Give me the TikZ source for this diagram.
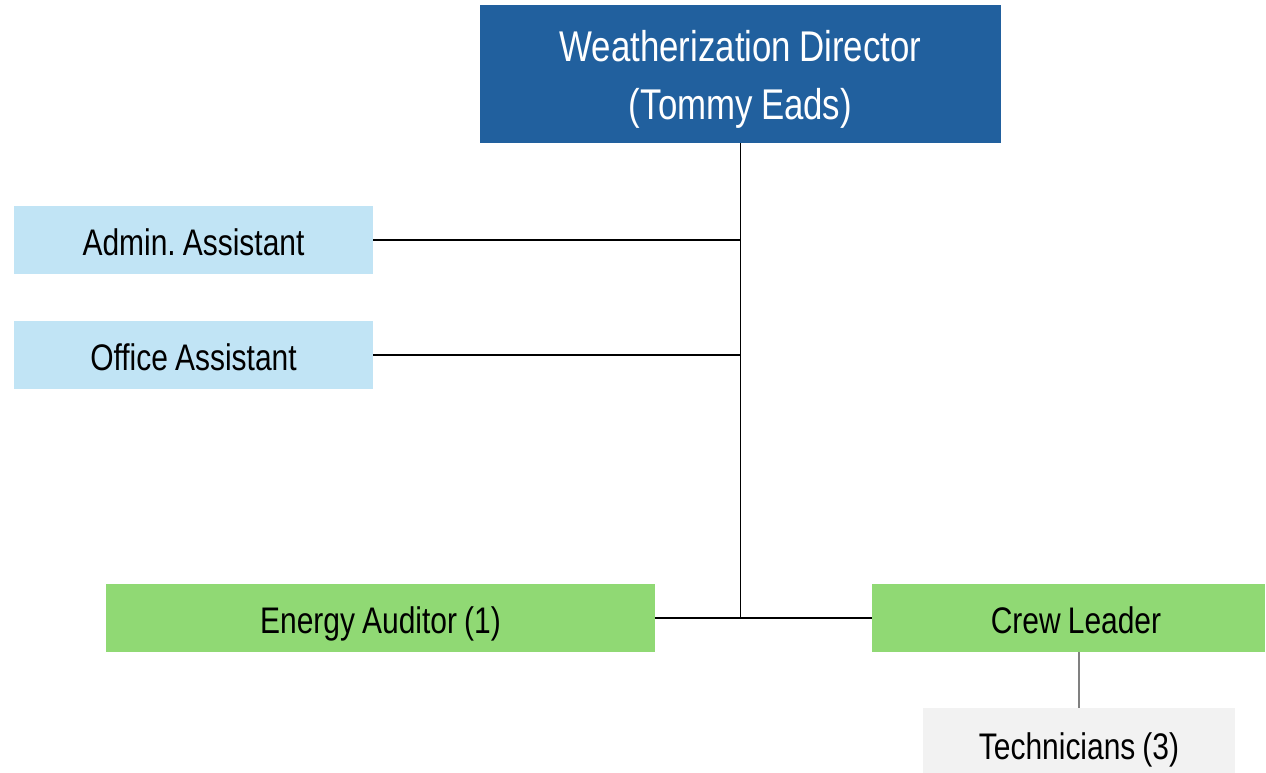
\documentclass[tikz,border=0pt]{standalone}
\usepackage{fontspec}
\setmainfont[FakeStretch=0.81,WordSpace=0.85]{Liberation Sans}
\frenchspacing
\definecolor{dirblue}{RGB}{33,96,158}
\definecolor{lightblue}{RGB}{193,228,245}
\definecolor{lgreen}{RGB}{144,217,116}
\definecolor{lgray}{RGB}{242,242,242}
\begin{document}
\begin{tikzpicture}[x=1pt,y=-1pt,
  box/.style={draw=none,inner sep=0pt,anchor=center,font=\fontsize{37}{44}\selectfont,text=black,text height=31pt,text depth=0pt},
  conn/.style={draw=black,line width=1.1pt},
  subconn/.style={draw=gray,line width=1.5pt}]
\useasboundingbox (0,0) rectangle (1266,772);
\clip (0,0) rectangle (1266,772);
\fill[white] (0,0) rectangle (1266,772);
\node[draw=none,inner sep=0pt,fill=dirblue,minimum width=521pt,minimum height=138pt,
  label={[text=white,align=center,font=\fontsize{43}{58}\selectfont,yshift=-5pt]center:Weatherization Director\\(Tommy Eads)}] (dir) at (740.5,74) {};
\node[box,fill=lightblue,minimum width=359pt,minimum height=68pt] (adm) at (193.5,240) {Admin. Assistant};
\node[box,fill=lightblue,minimum width=359pt,minimum height=68pt] (off) at (193.5,355) {Office Assistant};
\node[box,fill=lgreen,minimum width=549pt,minimum height=68pt] (en) at (380.5,618) {Energy Auditor (1)};
\node[box,fill=lgreen,minimum width=393pt,minimum height=68pt] (cr) at (1068.5,618) {\hspace*{15pt}Crew Leader};
\node[box,fill=lgray,minimum width=312pt,minimum height=72pt] (tech) at (1079,744) {Technicians (3)};
\coordinate (j) at (dir.south |- en.east);
\draw[conn] (dir.south) -- (j);
\draw[conn] (adm.east) -- (adm.east -| dir.south);
\draw[conn] (off.east) -- (off.east -| dir.south);
\draw[conn] (en.east) -- (cr.west);
\draw[subconn] (tech.north) -- (tech.north |- cr.south);
\end{tikzpicture}
\end{document}
